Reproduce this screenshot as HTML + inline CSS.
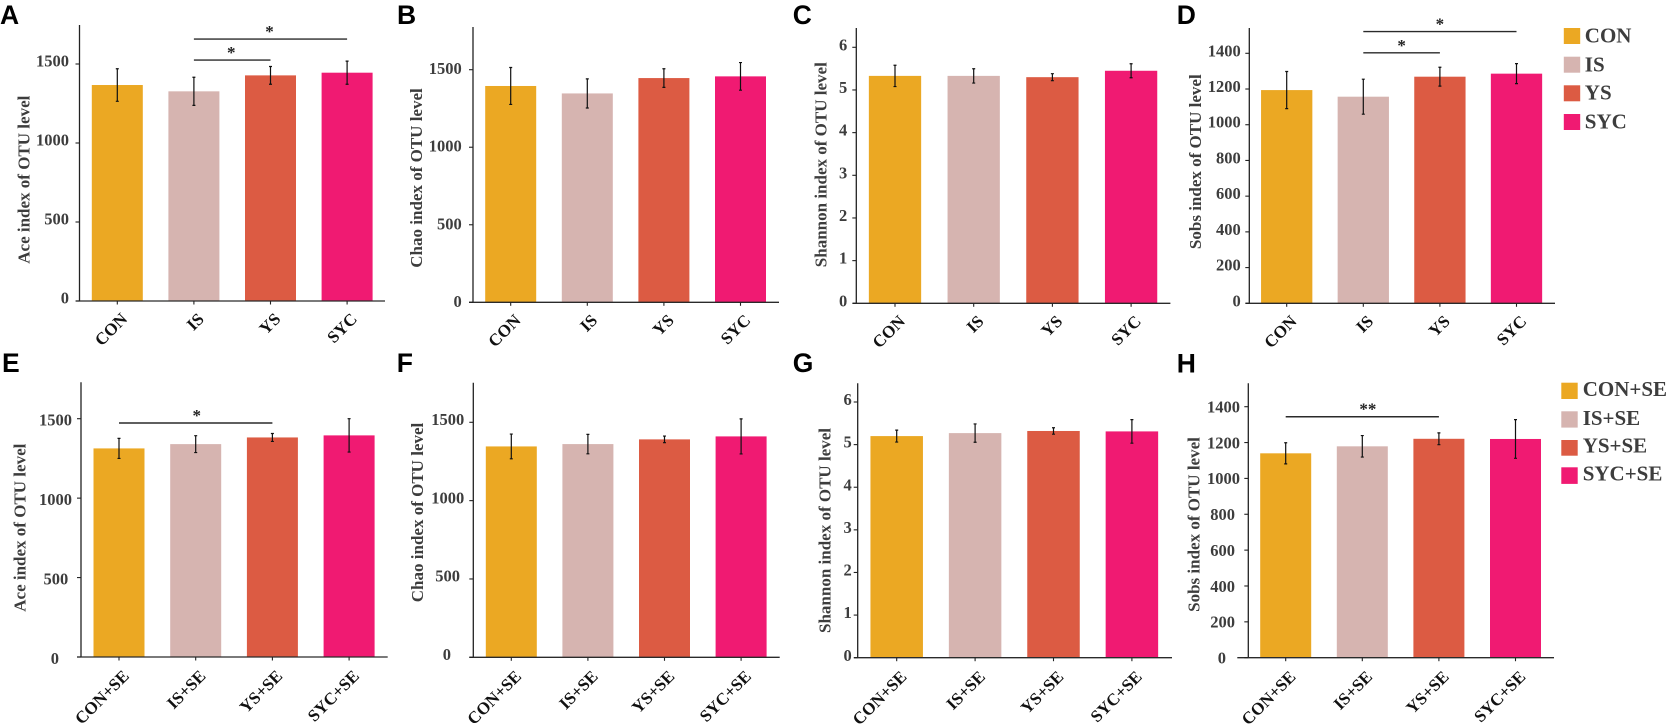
<!DOCTYPE html>
<html lang="en">
<head>
<meta charset="utf-8">
<title>Alpha diversity index bar charts</title>
<style>
html,body{margin:0;padding:0;background:#fff;width:1668px;height:725px;overflow:hidden}
svg{display:block;filter:blur(0.3px)}
text{font-family:"Liberation Serif",serif;font-weight:bold}
</style>
</head>
<body>
<svg id="figure" width="1668" height="725" viewBox="0 0 1668 725" xmlns="http://www.w3.org/2000/svg">
  <g font-size="21" fill="#3d3d3d">
    <rect x="1563.8" y="28" width="16.4" height="16" fill="#EBA823"/>
    <text x="1584.8" y="42.7">CON</text>
    <rect x="1563.8" y="56.7" width="16.4" height="16" fill="#D6B4B0"/>
    <text x="1584.8" y="71.3">IS</text>
    <rect x="1563.8" y="85.3" width="16.4" height="16" fill="#DC5B43"/>
    <text x="1584.8" y="99.5">YS</text>
    <rect x="1563.8" y="114" width="16.4" height="16" fill="#F01A72"/>
    <text x="1584.8" y="128.3">SYC</text>
  </g>
  <g font-size="21" fill="#3d3d3d">
    <rect x="1561.3" y="382.7" width="16.4" height="16.3" fill="#EBA823"/>
    <text x="1582.7" y="396">CON+SE</text>
    <rect x="1561.3" y="411.3" width="16.4" height="16.3" fill="#D6B4B0"/>
    <text x="1582.7" y="425">IS+SE</text>
    <rect x="1561.3" y="440" width="16.4" height="15.7" fill="#DC5B43"/>
    <text x="1582.7" y="452.7">YS+SE</text>
    <rect x="1561.3" y="467.3" width="16.4" height="16.6" fill="#F01A72"/>
    <text x="1582.7" y="480.7">SYC+SE</text>
  </g>
</svg>
<script>
// ---- Categories and tick labels ----
var categoriesTop = ['CON', 'IS', 'YS', 'SYC'];
var categoriesBottom = ['CON+SE', 'IS+SE', 'YS+SE', 'SYC+SE'];
var ticksRichness = [0, 500, 1000, 1500];
var ticksShannon = [0, 1, 2, 3, 4, 5, 6];
var ticksSobs = [0, 200, 400, 600, 800, 1000, 1200, 1400];

// ---- Series values (mean) and error half-widths ----
var aceTopValues = [1367, 1327, 1428, 1445];
var aceTopErrors = [103, 89, 56, 73];
var chaoTopValues = [1395, 1347, 1446, 1457];
var chaoTopErrors = [119, 94, 60, 89];
var shannonTopValues = [5.33, 5.33, 5.30, 5.45];
var shannonTopErrors = [0.25, 0.168, 0.082, 0.164];
var sobsTopValues = [1194, 1157, 1269, 1286];
var sobsTopErrors = [104, 98, 53, 56];
var aceBottomValues = [1313, 1340, 1382, 1395];
var aceBottomErrors = [63, 53, 25, 105];
var chaoBottomValues = [1346, 1361, 1391, 1410];
var chaoBottomErrors = [79, 62, 21, 112];
var shannonBottomValues = [5.20, 5.27, 5.32, 5.31];
var shannonBottomErrors = [0.14, 0.215, 0.075, 0.277];
var sobsBottomValues = [1140, 1179, 1221, 1220];
var sobsBottomErrors = [59, 60, 33, 108];

// ---- Significance brackets: category indices, height in axis units, mark ----
var sigAceTop = [[1, 3, 1658, '*'], [1, 2, 1525, '*']];
var sigSobsTop = [[1, 3, 1522, '*'], [1, 2, 1403, '*']];
var sigAceBottom = [[0, 2, 1473, '*']];
var sigSobsBottom = [[0, 2, 1344, '**']];

var barColors = ['#EBA823', '#D6B4B0', '#DC5B43', '#F01A72'];
var SVGNS = 'http://www.w3.org/2000/svg';
var figure = document.getElementById('figure');

// Panel layout (frame geometry only; the marks come from the arrays above)
var panels = [
  {id:'a', letter:'A', lx:0, ly:24, title:'Ace index of OTU level', tx:24, ty:179.7, cats:categoriesTop, ticks:ticksRichness, vals:aceTopValues, errs:aceTopErrors, sig:sigAceTop, markDx:-1,
   axisX:79.5, xStart:76, xEnd:385, top:25, base:301, yTop:64, first:117.3, step:76.6, barW:51, labelRight:[69,69,69,69], labelDy:-3, xLabDy:19},
  {id:'b', letter:'B', lx:397, ly:24, title:'Chao index of OTU level', tx:416.7, ty:178, cats:categoriesTop, ticks:ticksRichness, vals:chaoTopValues, errs:chaoTopErrors, sig:[], markDx:0,
   axisX:473, xStart:469, xEnd:779, top:27, base:302.3, yTop:69.7, first:510.7, step:76.6, barW:51, labelRight:[461.7,461.7,461.7,461.7], labelDy:-1, xLabDy:19},
  {id:'c', letter:'C', lx:792.7, ly:24, title:'Shannon index of OTU level', tx:821, ty:164.7, cats:categoriesTop, ticks:ticksShannon, vals:shannonTopValues, errs:shannonTopErrors, sig:[], markDx:0,
   axisX:856.3, xStart:852.7, xEnd:1170.4, top:28, base:303.3, yTop:47.3, first:895, step:78.7, barW:52.3, labelRight:[847.3,847.3,847.3,847.3,847.3,847.3,847.3], labelDy:-2.4, xLabDy:19},
  {id:'d', letter:'D', lx:1176.7, ly:24, title:'Sobs index of OTU level', tx:1195.7, ty:161.7, cats:categoriesTop, ticks:ticksSobs, vals:sobsTopValues, errs:sobsTopErrors, sig:sigSobsTop, markDx:0,
   axisX:1249.3, xStart:1245.5, xEnd:1555, top:28, base:303.3, yTop:53.3, first:1286.7, step:76.6, barW:51.3, labelRight:[1240.7,1240.7,1240.7,1240.7,1240.7,1240.7,1240.7,1240.7], labelDy:-2.5, xLabDy:19},
  {id:'e', letter:'E', lx:2, ly:372, title:'Ace index of OTU level', tx:20, ty:527.7, cats:categoriesBottom, ticks:ticksRichness, vals:aceBottomValues, errs:aceBottomErrors, sig:sigAceBottom, markDx:1,
   axisX:81, xStart:77, xEnd:387.7, top:382.3, base:657, yTop:418.7, first:119, step:76.7, barW:51, labelRight:[59,68.3,72,72], labelDy:1.5, xLabDy:20},
  {id:'f', letter:'F', lx:396.7, ly:372, title:'Chao index of OTU level', tx:417.3, ty:512.5, cats:categoriesBottom, ticks:ticksRichness, vals:chaoBottomValues, errs:chaoBottomErrors, sig:[], markDx:0,
   axisX:473.3, xStart:469.3, xEnd:779.7, top:382.7, base:657.3, yTop:422.3, first:511.3, step:76.6, barW:51, labelRight:[451,460,464.3,464.3], labelDy:-2.8, xLabDy:20},
  {id:'g', letter:'G', lx:792.7, ly:372, title:'Shannon index of OTU level', tx:825, ty:530.5, cats:categoriesBottom, ticks:ticksShannon, vals:shannonBottomValues, errs:shannonBottomErrors, sig:[], markDx:0,
   axisX:857.7, xStart:854, xEnd:1172, top:383.3, base:657.7, yTop:402, first:896.7, step:78.4, barW:52.5, labelRight:[851.7,851.7,851.7,851.7,851.7,851.7,851.7], labelDy:-2.4, xLabDy:20},
  {id:'h', letter:'H', lx:1176.7, ly:372.3, title:'Sobs index of OTU level', tx:1194, ty:524.5, cats:categoriesBottom, ticks:ticksSobs, vals:sobsBottomValues, errs:sobsBottomErrors, sig:sigSobsBottom, markDx:5.6,
   axisX:1248.3, xStart:1237.3, xEnd:1554, top:383.3, base:657.7, yTop:406.7, first:1285.7, step:76.6, barW:51, labelRight:[1226,1235,1235,1235,1235,1240,1240,1240], labelDy:0.3, xLabDy:20}
];

function make(tag, attrs, parent) {
  var node = document.createElementNS(SVGNS, tag);
  for (var k in attrs) { node.setAttribute(k, attrs[k]); }
  parent.appendChild(node);
  return node;
}

panels.forEach(function (p) {
  var maxTick = p.ticks[p.ticks.length - 1];
  function yScale(v) { return p.base - (v / maxTick) * (p.base - p.yTop); }
  function xScale(i) { return p.first + i * p.step; }

  var g = make('g', {}, figure);
  
  

  var letter = make('text', {x: p.lx, y: p.ly, 'font-size': 26.5, fill: '#000', style: 'font-family:"Liberation Sans",sans-serif'}, g);
  letter.textContent = p.letter;
  
  

  var title = make('text', {x: 0, y: 0, 'font-size': 17, fill: '#3d3d3d', 'text-anchor': 'middle', 'dominant-baseline': 'central', transform: 'translate(' + p.tx + ' ' + p.ty + ') rotate(-90)'}, g);
  title.textContent = p.title;
  
  

  // bars
  p.vals.forEach(function (v, i) {
    var yy = yScale(v);
    var bar = make('rect', {x: xScale(i) - p.barW / 2, y: yy, width: p.barW, height: p.base - yy, fill: barColors[i]}, g);
    
    
  });

  // error bars
  p.errs.forEach(function (e, i) {
    var cx = xScale(i);
    var hi = yScale(p.vals[i] + e);
    var lo = yScale(p.vals[i] - e);
    var d = 'M' + cx + ' ' + hi + 'V' + lo + 'M' + (cx - 1.5) + ' ' + hi + 'H' + (cx + 1.5) + 'M' + (cx - 1.5) + ' ' + lo + 'H' + (cx + 1.5);
    var err = make('path', {d: d, stroke: '#111', 'stroke-width': 1.2, fill: 'none'}, g);
    
    
  });

  // axes
  var yAxis = make('line', {x1: p.axisX, x2: p.axisX, y1: p.top, y2: p.base, stroke: '#222', 'stroke-width': 1.3}, g);
  
  
  var xAxis = make('line', {x1: p.xStart, x2: p.xEnd, y1: p.base, y2: p.base, stroke: '#2a2a2a', 'stroke-width': 1.3}, g);
  
  

  // y ticks
  p.ticks.forEach(function (t, i) {
    var yy = yScale(t);
    var tick = make('line', {x1: p.axisX - 4, x2: p.axisX, y1: yy, y2: yy, stroke: '#222', 'stroke-width': 1.1}, g);
    
    
    var lab = make('text', {x: p.labelRight[i], y: yy + p.labelDy + 5.5, 'font-size': 16.5, fill: '#3d3d3d', 'text-anchor': 'end'}, g);
    lab.textContent = String(t);
    
    
  });

  // x ticks and labels
  p.cats.forEach(function (c, i) {
    var cx = xScale(i);
    var tick = make('line', {x1: cx, x2: cx, y1: p.base, y2: p.base + 3.5, stroke: '#222', 'stroke-width': 1.1}, g);
    
    
    var lab = make('text', {x: 0, y: 0, 'font-size': 17, fill: '#111', 'text-anchor': 'end', transform: 'translate(' + (cx + 11) + ' ' + (p.base + p.xLabDy) + ') rotate(-45)'}, g);
    lab.textContent = c;
    
    
  });

  // significance brackets
  p.sig.forEach(function (s, i) {
    var x1 = xScale(s[0]);
    var x2 = xScale(s[1]);
    var yy = yScale(s[2]);
    var line = make('line', {x1: x1, x2: x2, y1: yy, y2: yy, stroke: '#2a2a2a', 'stroke-width': 1.4}, g);
    
    
    var mark = make('text', {x: (x1 + x2) / 2 + p.markDx, y: yy - 2, 'font-size': 17, fill: '#222', 'text-anchor': 'middle'}, g);
    mark.textContent = s[3];
    
    
  });
});
</script>
</body>
</html>
